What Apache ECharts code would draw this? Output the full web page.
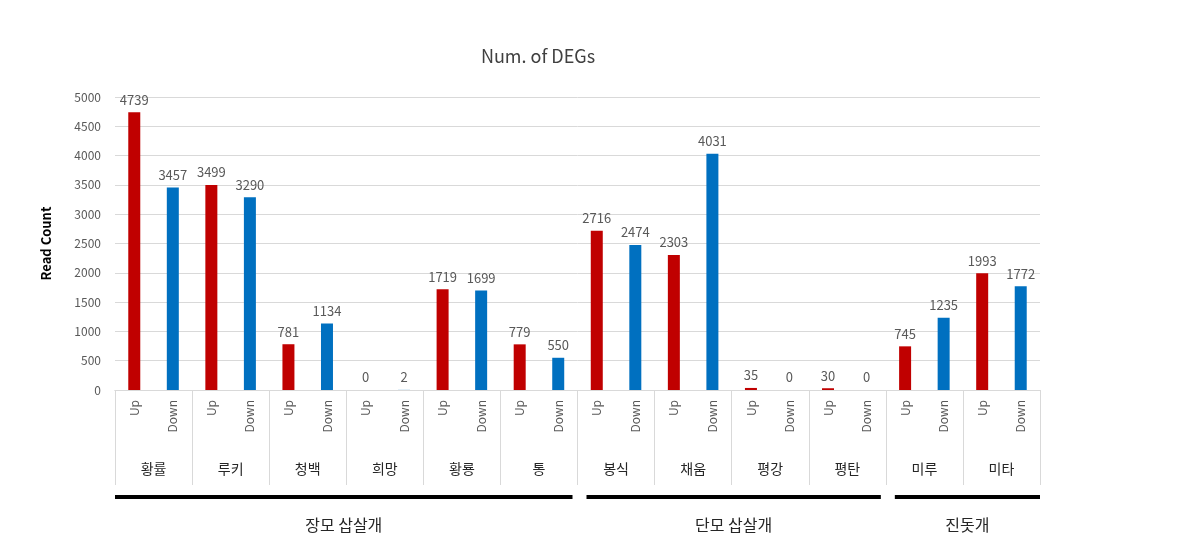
<!DOCTYPE html>
<html>
<head>
<meta charset="utf-8">
<script src="https://cdn.jsdelivr.net/npm/echarts@6/dist/echarts.min.js"></script>
<style>
html,body{margin:0;padding:0;background:#fff;}
#chart{width:1197px;height:556px;}
</style>
</head>
<body>
<div id="chart"></div>
<script>
var groups = ['황률','루키','청백','희망','황룡','통','봉식','채움','평강','평탄','미루','미타'];
var upValues = [4739, 3499, 781, 0, 1719, 779, 2716, 2303, 35, 30, 745, 1993];
var downValues = [3457, 3290, 1134, 2, 1699, 550, 2474, 4031, 0, 0, 1235, 1772];
var superGroups = ['장모 삽살개', '단모 삽살개', '진돗개'];
var superGroupSizes = [6, 4, 2];
var yTicks = {min: 0, max: 5000, interval: 500};

var cats = [];
var upData = [];
var downData = [];
groups.forEach(function (g, i) {
  cats.push('Up'); cats.push('Down');
  upData.push(upValues[i]); upData.push('-');
  downData.push('-'); downData.push(downValues[i]);
});

var FONT = '"Noto Sans CJK KR", "Noto Sans", sans-serif';
var chart = echarts.init(document.getElementById('chart'));
var labelStyle = {show: true, position: 'top', color: '#595959', fontSize: 13, fontFamily: FONT, distance: 6};
chart.setOption({
  animation: false,
  backgroundColor: '#fff',
  title: {
    text: 'Num. of DEGs', left: 533, top: 42, textAlign: 'center',
    textStyle: {fontFamily: FONT, fontSize: 18, fontWeight: 'normal', color: '#404040'}
  },
  grid: {left: 115, right: 157, top: 97, bottom: 166, containLabel: false},
  xAxis: [{
    type: 'category', data: cats, position: 'bottom',
    axisLine: {lineStyle: {color: '#d9d9d9', width: 1}},
    axisTick: {show: false},
    axisLabel: {interval: 0, rotate: 90, color: '#595959', fontSize: 12, fontFamily: FONT, margin: 10}
  }, {
    type: 'category', data: groups, position: 'bottom',
    axisLine: {show: true, lineStyle: {color: '#d9d9d9'}},
    axisTick: {show: true, length: 95, lineStyle: {color: '#d9d9d9', width: 1}},
    axisLabel: {interval: 0, color: '#262626', fontSize: 14, fontFamily: FONT, margin: 72}
  }],
  yAxis: {
    type: 'value', min: yTicks.min, max: yTicks.max, interval: yTicks.interval,
    name: 'Read Count', nameLocation: 'middle', nameGap: 62, nameRotate: 90,
    nameTextStyle: {fontFamily: FONT, fontSize: 13, fontWeight: 'bold', color: '#000'},
    axisLine: {show: false}, axisTick: {show: false},
    axisLabel: {color: '#595959', fontSize: 12, fontFamily: FONT, margin: 14,
      formatter: function (v) { return String(v); }},
    splitLine: {lineStyle: {color: '#d9d9d9', width: 1}}
  },
  series: [{
    name: 'Up', type: 'bar', data: upData, barWidth: 12, barGap: '-100%',
    itemStyle: {color: '#C00000'}, label: labelStyle
  }, {
    name: 'Down', type: 'bar', data: downData, barWidth: 12, barGap: '-100%',
    itemStyle: {color: '#0070C0'}, label: labelStyle
  }]
});

// super group lines and labels, positioned from the group axis scale
var half = (chart.convertToPixel({xAxisIndex: 1}, groups[1]) - chart.convertToPixel({xAxisIndex: 1}, groups[0])) / 2;
var elements = [];
var start = 0;
superGroupSizes.forEach(function (n, k) {
  var x0 = chart.convertToPixel({xAxisIndex: 1}, groups[start]) - half;
  var x1 = chart.convertToPixel({xAxisIndex: 1}, groups[start + n - 1]) + half;
  var l = start === 0 ? x0 : x0 + 9;
  var r = start + n === groups.length ? x1 : x1 - 5;
  elements.push({type: 'rect', shape: {x: l, y: 495, width: r - l, height: 4}, style: {fill: '#000'}, silent: true});
  elements.push({type: 'text', x: (l + r) / 2, y: 525, style: {text: superGroups[k], fill: '#262626', font: '16px ' + FONT, align: 'center', verticalAlign: 'middle'}, silent: true});
  start += n;
});
chart.setOption({graphic: elements});
</script>
</body>
</html>
